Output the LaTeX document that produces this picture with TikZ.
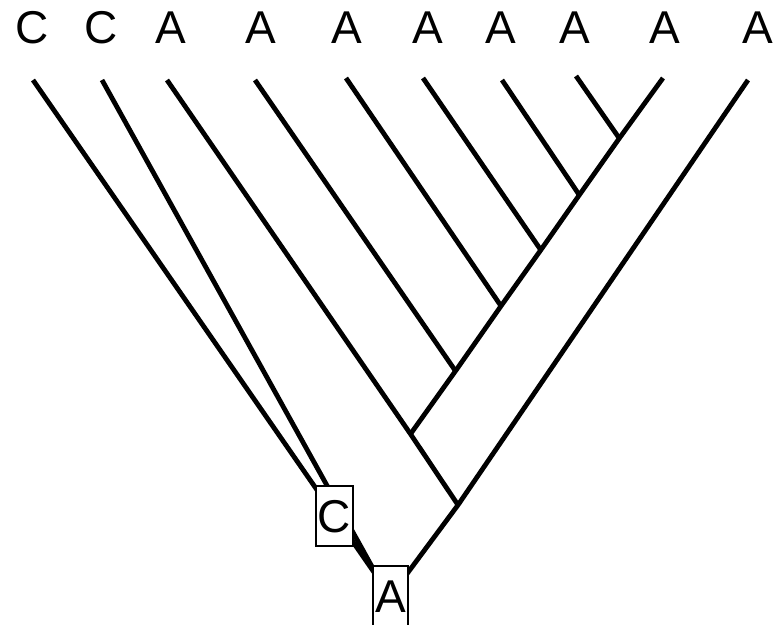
\documentclass[tikz,border=0pt]{standalone}
\usepackage{fontspec}
\setmainfont{Liberation Sans}
\begin{document}
\begin{tikzpicture}[x=1pt,y=-1pt,
  branch/.style={line width=4.8pt, line cap=butt, line join=miter},
  leaflabel/.style={font=\fontsize{46}{46}\selectfont, inner sep=0pt,
    text height=33pt, text depth=0pt, anchor=center},
  statebox/.style={draw, line width=1.2pt, fill=white, inner sep=0pt,
    font=\fontsize{46}{46}\selectfont, text height=33pt, text depth=0pt,
    minimum width=36pt, minimum height=60pt}]
\useasboundingbox (0,0) rectangle (782,624);

% tip labels
\node[leaflabel] (l1)  at (32,26.5)  {C};
\node[leaflabel] (l2)  at (101,26.5) {C};
\node[leaflabel] (l3)  at (170.5,26.5) {A};
\node[leaflabel] (l4)  at (260.5,26.5) {A};
\node[leaflabel] (l5)  at (347,26.5) {A};
\node[leaflabel] (l6)  at (428,26.5) {A};
\node[leaflabel] (l7)  at (501,26.5) {A};
\node[leaflabel] (l8)  at (575,26.5) {A};
\node[leaflabel] (l9)  at (665,26.5) {A};
\node[leaflabel] (l10) at (758,26.5) {A};

% branch tips
\coordinate (t1)  at (33,80);
\coordinate (t2)  at (102,80);
\coordinate (t3)  at (167,80);
\coordinate (t4)  at (255,80);
\coordinate (t5)  at (346,78);
\coordinate (t6)  at (423,78);
\coordinate (t7)  at (502,80);
\coordinate (t8)  at (576,76);
\coordinate (t9)  at (663,78);
\coordinate (t10) at (748,80);

% internal nodes
\coordinate (root) at (390.5,596);
\coordinate (cnode) at (379.4,580);
\coordinate (n1) at (458,505);
\coordinate (n2) at (410.5,434);
\coordinate (n3) at (455.5,371);
\coordinate (n4) at (501,306);
\coordinate (n5) at (540.8,250);
\coordinate (n6) at (579.3,195);
\coordinate (n7) at (619.3,138.3);

% branches
\draw[branch] (root) -- (cnode) -- (t1);
\draw[branch] (cnode) -- (t2);
\draw[branch] (root) -- (n1) -- (t10);
\draw[branch] (n1) -- (n2) -- (t3);
\draw[branch] (n2) -- (n3) -- (n4) -- (n5) -- (n6) -- (n7) -- (t9);
\draw[branch] (n3) -- (t4);
\draw[branch] (n4) -- (t5);
\draw[branch] (n5) -- (t6);
\draw[branch] (n6) -- (t7);
\draw[branch] (n7) -- (t8);

% ancestral states
\node[statebox, minimum width=37pt] (cstate) at (334.5,516) {C};
\node[statebox, minimum width=35pt] (astate) at (root) {A};
\end{tikzpicture}
\end{document}
